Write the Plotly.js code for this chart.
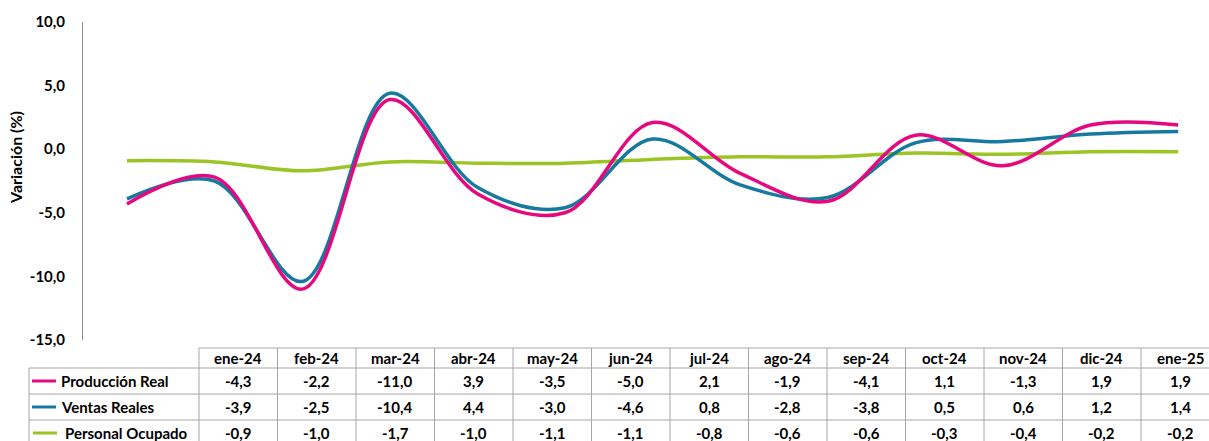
<!DOCTYPE html>
<html>
<head>
<meta charset="utf-8">
<script src="https://cdn.plot.ly/plotly-3.0.1.min.js"></script>
<style>
html,body{margin:0;padding:0;background:#fff;}
#chart{width:1209px;height:441px;}
</style>
</head>
<body>
<div id="chart"></div>
<script>
// ---- data ----
var categories = ['ene-24','feb-24','mar-24','abr-24','may-24','jun-24','jul-24','ago-24','sep-24','oct-24','nov-24','dic-24','ene-25'];
var produccionReal = [-4.3,-2.2,-11.0,3.9,-3.5,-5.0,2.1,-1.9,-4.1,1.1,-1.3,1.9,1.9];
var ventasReales = [-3.9,-2.5,-10.4,4.4,-3.0,-4.6,0.8,-2.8,-3.8,0.5,0.6,1.2,1.4];
var personalOcupado = [-0.9,-1.0,-1.7,-1.0,-1.1,-1.1,-0.8,-0.6,-0.6,-0.3,-0.4,-0.2,-0.2];
var seriesNames = ['Producción Real','Ventas Reales','Personal Ocupado'];
var yTicks = [10,5,0,-5,-10,-15];

// ---- styles ----
var colors = ['#E5097F','#167AA0','#9BC425'];
var FONT = 'Lato, "Open Sans", sans-serif';
var W = 1209, H = 441;
var mL = 83, mR = 0, mT = 22, mB = 101;
var pw = W - mL - mR, ph = H - mT - mB;
function px(x){ return (x - mL) / pw; }
function py(y){ return (H - mB - y) / ph; }
function fmt(v){ return v.toFixed(1).replace('.', ','); }

var idx = categories.map(function(_, i){ return i; });
var seriesData = [produccionReal, ventasReales, personalOcupado];
var traces = seriesData.map(function(d, k){
  return {
    x: idx, y: d, type: 'scatter', mode: 'lines', name: seriesNames[k],
    line: {color: colors[k], width: 3.5, shape: 'spline', smoothing: 1},
    hoverinfo: 'skip'
  };
});
traces = [traces[2], traces[1], traces[0]];

var shapes = [], annotations = [];
var gridColor = '#a6a6a6';
var colStart = 199, colW = 78.5, nCols = categories.length;
var tableRight = colStart + colW * nCols;
var rowTops = [348, 368, 394, 420, 446];
var labelLeft = 29;

function hline(y, x0, x1){
  shapes.push({type:'line', xref:'paper', yref:'paper', x0:px(x0), x1:px(x1), y0:py(y), y1:py(y), line:{color:gridColor, width:1}});
}
function vline(x, y0, y1){
  shapes.push({type:'line', xref:'paper', yref:'paper', x0:px(x), x1:px(x), y0:py(y0), y1:py(y1), line:{color:gridColor, width:1}});
}
hline(rowTops[0], colStart, tableRight);
for (var r = 1; r < rowTops.length; r++) hline(rowTops[r], labelLeft, tableRight);
vline(labelLeft, rowTops[1], rowTops[4]);
for (var c = 0; c <= nCols; c++) vline(colStart + colW * c, rowTops[0], rowTops[4]);

var cellFont = {family: FONT, size: 15, color: '#000', weight: 'bold'};
categories.forEach(function(cat, i){
  annotations.push({xref:'paper', yref:'paper', x:px(colStart + colW * (i + 0.5)), y:py((rowTops[0] + rowTops[1]) / 2),
    text:'<b>' + cat + '</b>', showarrow:false, xanchor:'center', yanchor:'middle', font:cellFont});
});
seriesData.forEach(function(d, k){
  var yc = (rowTops[k + 1] + rowTops[k + 2]) / 2;
  var mx0 = k === 2 ? 33 : 32;
  shapes.push({type:'line', xref:'paper', yref:'paper', x0:px(mx0), x1:px(mx0 + 24), y0:py(yc), y1:py(yc), line:{color:colors[k], width:3}});
  annotations.push({xref:'paper', yref:'paper', x:px(k === 2 ? 63 : 59), y:py(yc), text:'<b>' + seriesNames[k] + '</b>',
    showarrow:false, xanchor:'left', yanchor:'middle', font:cellFont});
  d.forEach(function(v, i){
    annotations.push({xref:'paper', yref:'paper', x:px(colStart + colW * (i + 0.5)), y:py(yc),
      text:'<b>' + fmt(v) + '</b>', showarrow:false, xanchor:'center', yanchor:'middle', font:cellFont});
  });
});
annotations.push({xref:'paper', yref:'paper', x:px(15), y:py(158), text:'<b>Variación (%)</b>', textangle:-90,
  showarrow:false, xanchor:'center', yanchor:'middle', font:{family: FONT, size: 16, color:'#000', weight:'bold'}});

var x0 = -(127 - mL) / 87.6;
var x1 = (W - mR - 127) / 87.6;

var layout = {
  width: W, height: H,
  margin: {l: mL, r: mR, t: mT, b: mB, pad: 0},
  paper_bgcolor: '#fff', plot_bgcolor: '#fff',
  showlegend: false,
  separators: ',.',
  xaxis: {range: [x0, x1], visible: false, showgrid: false, zeroline: false, fixedrange: true},
  yaxis: {
    range: [-15, 10], tickvals: yTicks, ticktext: yTicks.map(function(v){ return '<b>' + fmt(v) + '</b>'; }),
    showgrid: false, zeroline: false, showline: true, linecolor: '#8c8c8c', linewidth: 1,
    ticks: '', ticklabelstandoff: 14,
    tickfont: {family: FONT, size: 15, color: '#000'}, fixedrange: true
  },
  shapes: shapes,
  annotations: annotations
};

Plotly.newPlot('chart', traces, layout, {staticPlot: true, displayModeBar: false});
</script>
</body>
</html>
